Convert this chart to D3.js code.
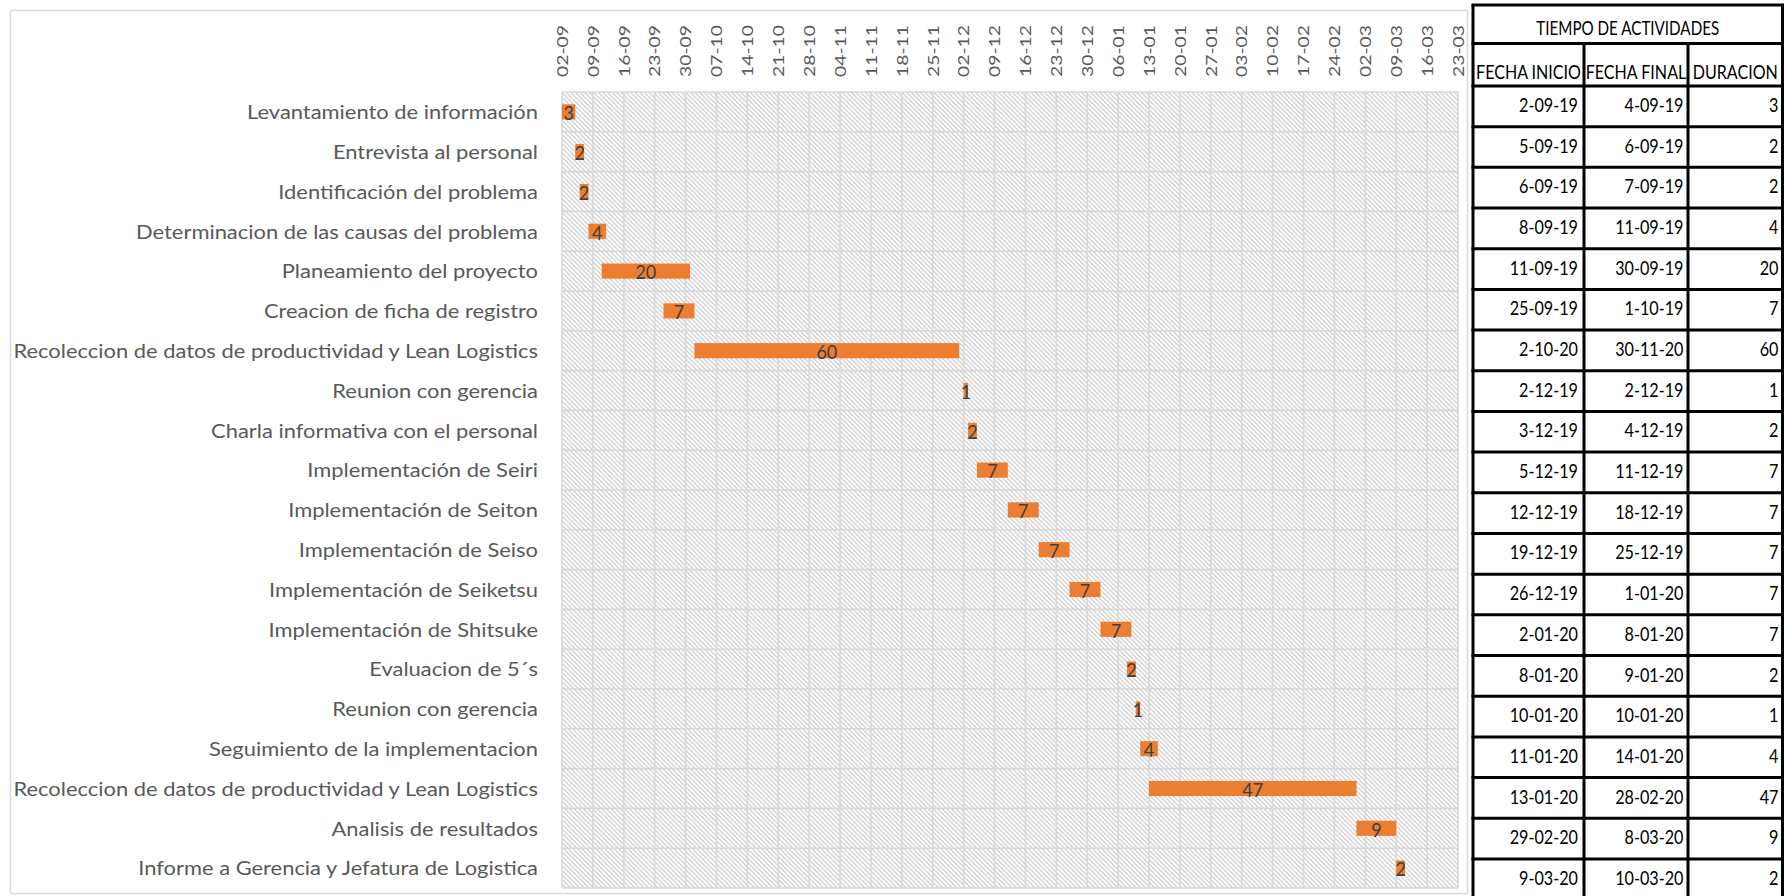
<!DOCTYPE html>
<html>
<head>
<meta charset="utf-8">
<script src="https://cdn.jsdelivr.net/npm/d3@7"></script>
<style>
  body { margin: 0; background: #fff; }
  svg { display: block; }
  text { font-family: Lato, "Open Sans", "Liberation Sans", sans-serif; }
</style>
</head>
<body>
<svg id="chart" width="1784" height="896"></svg>
<script>
// ---- Activities (top to bottom) ----
const tasks = [
  "Levantamiento de información",
  "Entrevista al personal",
  "Identificación del problema",
  "Determinacion de las causas del problema",
  "Planeamiento del proyecto",
  "Creacion de ficha de registro",
  "Recoleccion de datos de productividad y Lean Logistics",
  "Reunion con gerencia",
  "Charla informativa con el personal",
  "Implementación de Seiri",
  "Implementación de Seiton",
  "Implementación de Seiso",
  "Implementación de Seiketsu",
  "Implementación de Shitsuke",
  "Evaluacion de 5´s",
  "Reunion con gerencia",
  "Seguimiento de la implementacion",
  "Recoleccion de datos de productividad y Lean Logistics",
  "Analisis de resultados",
  "Informe a Gerencia y Jefatura de Logistica"
];

// Bar start dates (calendar dates used on the timeline)
const startDates = [
  "2019-09-02", "2019-09-05", "2019-09-06", "2019-09-08", "2019-09-11",
  "2019-09-25", "2019-10-02", "2019-12-02", "2019-12-03", "2019-12-05",
  "2019-12-12", "2019-12-19", "2019-12-26", "2020-01-02", "2020-01-08",
  "2020-01-10", "2020-01-11", "2020-01-13", "2020-02-29", "2020-03-09"
];

// Duration in days
const durations = [3, 2, 2, 4, 20, 7, 60, 1, 2, 7, 7, 7, 7, 7, 2, 1, 4, 47, 9, 2];

// Table columns, as written in the side table
const tableStart = [
  "2-09-19", "5-09-19", "6-09-19", "8-09-19", "11-09-19", "25-09-19", "2-10-20",
  "2-12-19", "3-12-19", "5-12-19", "12-12-19", "19-12-19", "26-12-19", "2-01-20",
  "8-01-20", "10-01-20", "11-01-20", "13-01-20", "29-02-20", "9-03-20"
];
const tableEnd = [
  "4-09-19", "6-09-19", "7-09-19", "11-09-19", "30-09-19", "1-10-19", "30-11-20",
  "2-12-19", "4-12-19", "11-12-19", "18-12-19", "25-12-19", "1-01-20", "8-01-20",
  "9-01-20", "10-01-20", "14-01-20", "28-02-20", "8-03-20", "10-03-20"
];
const tableTitle = "TIEMPO DE ACTIVIDADES";
const tableHeads = ["FECHA INICIO", "FECHA FINAL", "DURACION"];

// Timeline limits (weekly ticks on Mondays)
const axisStart = "2019-09-02";
const axisEnd = "2020-03-23";

// ---- Layout ----
const svg = d3.select("#chart");
const plot = { left: 562, right: 1458, top: 92, bottom: 888 };
const FONT = 20;
const parse = d3.utcParse("%Y-%m-%d");
const fmtTick = d3.utcFormat("%d-%m");

const rows = tasks.map((t, i) => ({
  i, task: t, start: parse(startDates[i]), dur: durations[i]
}));

const x = d3.scaleUtc()
  .domain([parse(axisStart), parse(axisEnd)])
  .range([plot.left, plot.right]);

const y = d3.scaleBand()
  .domain(d3.range(tasks.length))
  .range([plot.top, plot.bottom])
  .padding(0);

const ticks = d3.utcMonday.range(parse(axisStart), d3.utcDay.offset(parse(axisEnd), 1));

// helper: width of a string in the chart font
const probe = svg.append("text").attr("font-size", FONT).attr("x", -1000).attr("y", -1000);
function textWidth(s, size) {
  probe.attr("font-size", size || FONT).text(s);
  return probe.node().getComputedTextLength();
}

// chart frame
svg.append("rect")
  .attr("x", 10.5).attr("y", 10.5)
  .attr("width", 1457).attr("height", 883)
  .attr("fill", "#fff").attr("stroke", "#d9d9d9").attr("stroke-width", 1.5);

// diagonal hatch for the plot background
const defs = svg.append("defs");
const P = 4.6;
const pat = defs.append("pattern")
  .attr("id", "hatch").attr("patternUnits", "userSpaceOnUse")
  .attr("width", P).attr("height", P);
pat.append("rect").attr("width", P).attr("height", P).attr("fill", "#ffffff");
[[-1, -1, P + 1, P + 1], [P - 1, -1, P + 1, 1], [-1, P - 1, 1, P + 1]].forEach(([x1, y1, x2, y2]) => {
  pat.append("line")
    .attr("x1", x1).attr("y1", y1).attr("x2", x2).attr("y2", y2)
    .attr("stroke", "#cbcbcb").attr("stroke-width", 1.2);
});

svg.append("rect")
  .attr("x", plot.left).attr("y", plot.top)
  .attr("width", plot.right - plot.left).attr("height", plot.bottom - plot.top)
  .attr("fill", "url(#hatch)");

// gridlines
const grid = svg.append("g").attr("stroke", "#d9d9d9").attr("stroke-width", 1.6);
grid.selectAll("line.v").data(ticks).join("line")
  .attr("class", "v")
  .attr("x1", d => x(d)).attr("x2", d => x(d))
  .attr("y1", plot.top).attr("y2", plot.bottom);
grid.selectAll("line.h").data(d3.range(tasks.length + 1)).join("line")
  .attr("class", "h")
  .attr("x1", plot.left).attr("x2", plot.right)
  .attr("y1", i => i < tasks.length ? y(i) : plot.bottom)
  .attr("y2", i => i < tasks.length ? y(i) : plot.bottom);

// tick labels (rotated)
const tickLen = 52 / textWidth("02-09");
svg.append("g").selectAll("text").data(ticks).join("text")
  .attr("transform", d => `translate(${x(d)},77) rotate(-90) scale(${tickLen},0.8)`)
  .attr("dy", "0.36em")
  .attr("text-anchor", "start")
  .attr("font-size", FONT)
  .attr("fill", "#595959")
  .text(d => fmtTick(d));

// category labels
const catSx = 291 / textWidth(tasks[0]);
svg.append("g").selectAll("text").data(rows).join("text")
  .attr("transform", d => `translate(538,${y(d.i) + y.bandwidth() / 2}) scale(${catSx},1)`)
  .attr("dy", "0.36em")
  .attr("text-anchor", "end")
  .attr("font-size", FONT)
  .attr("fill", "#595959")
  .text(d => d.task);

// bars
const barH = y.bandwidth() * 0.38;
svg.append("g").selectAll("rect").data(rows).join("rect")
  .attr("x", d => x(d.start))
  .attr("y", d => y(d.i) + (y.bandwidth() - barH) / 2)
  .attr("width", d => x(d3.utcDay.offset(d.start, d.dur)) - x(d.start))
  .attr("height", barH)
  .attr("fill", "#ed7d31");

// value labels
const valSx = 0.9;
svg.append("g").selectAll("text").data(rows).join("text")
  .attr("transform", d => {
    const cx = (x(d.start) + x(d3.utcDay.offset(d.start, d.dur))) / 2;
    return `translate(${cx},${y(d.i) + y.bandwidth() / 2 + 1}) scale(${valSx},1)`;
  })
  .attr("dy", "0.36em")
  .attr("text-anchor", "middle")
  .attr("font-size", FONT)
  .attr("fill", "#404040")
  .text(d => d.dur);

// ---- side table ----
const T = { cols: [1473, 1584, 1688, 1782.5], top: 5, h1: 38.5, h2: 42.5, rowH: 40.68 };
const dataTop = T.top + T.h1 + T.h2;
const tbl = svg.append("g");
const rowLines = [T.top, T.top + T.h1, dataTop].concat(d3.range(1, tasks.length + 1).map(k => dataTop + k * T.rowH));
const lines = tbl.append("g").attr("stroke", "#000").attr("stroke-width", 3);
lines.selectAll("line.r").data(rowLines).join("line")
  .attr("x1", T.cols[0] - 1.5).attr("x2", T.cols[3] + 1.5)
  .attr("y1", d => d).attr("y2", d => d);
lines.selectAll("line.c").data(T.cols).join("line")
  .attr("x1", d => d).attr("x2", d => d)
  .attr("y1", (d, k) => (k === 0 || k === 3) ? T.top : T.top + T.h1)
  .attr("y2", rowLines[rowLines.length - 1]);

const titleSx = 183 / textWidth(tableTitle);
tbl.append("text")
  .attr("transform", `translate(${(T.cols[0] + T.cols[3]) / 2},${T.top + 30}) scale(${titleSx},1)`)
  .attr("text-anchor", "middle").attr("font-size", FONT).attr("fill", "#000")
  .text(tableTitle);

const headSx = 105 / textWidth(tableHeads[0]);
tbl.selectAll("text.h").data(tableHeads).join("text")
  .attr("class", "h")
  .attr("transform", (d, k) => `translate(${(T.cols[k] + T.cols[k + 1]) / 2},${T.top + T.h1 + 35}) scale(${headSx},1)`)
  .attr("text-anchor", "middle").attr("font-size", FONT).attr("fill", "#000")
  .text(d => d);

const cellSx = 59 / textWidth(tableStart[0]);
const pad = [4.5, 3, 2.5];
const cells = rows.flatMap(d => [tableStart[d.i], tableEnd[d.i], String(d.dur)].map((v, k) => ({ v, k, i: d.i })));
tbl.selectAll("text.c").data(cells).join("text")
  .attr("class", "c")
  .attr("transform", c => `translate(${T.cols[c.k + 1] - pad[c.k] - 1.5},${dataTop + c.i * T.rowH + 26}) scale(${cellSx},1)`)
  .attr("text-anchor", "end").attr("font-size", FONT).attr("fill", "#000")
  .text(c => c.v);

probe.remove();
</script>
</body>
</html>
